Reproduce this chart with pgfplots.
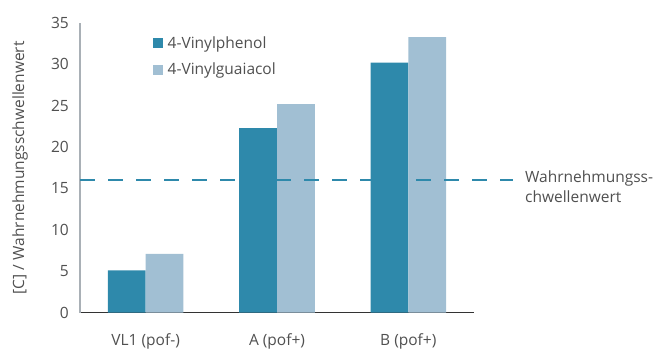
\documentclass[border=0pt]{standalone}
\usepackage{fontspec}
\setmainfont{Open Sans}
\usepackage{pgfplots}
\pgfplotsset{compat=1.18}
\definecolor{dark}{HTML}{2E89AB}
\definecolor{light}{HTML}{A1BFD3}
\definecolor{txt}{HTML}{505050}
\definecolor{yax}{HTML}{A9B0B6}
\begin{document}
\begin{tikzpicture}[font=\fontsize{15.5}{20}\selectfont]
\begin{axis}[
  scale only axis, width=394pt, height=289.5pt,
  xmin=-0.5, xmax=2.5, ymin=0, ymax=35,
  clip=false,
  /pgf/number format/assume math mode=true,
  ybar, bar width=37.8pt,
  axis x line*=bottom, axis y line*=left,
  x axis line style={draw=black!80, line width=0.8pt, -},
  y axis line style={draw=yax, line width=1.3pt, -},
  xtick={0,1,2}, xticklabels={VL1 (pof-),A (pof+),B (pof+)},
  major x tick style={draw=none},
  extra x ticks={-0.5,0.5,1.5,2.5}, extra x tick labels={},
  extra x tick style={tick style={draw=black!80, line width=0.8pt}, major tick length=6pt, tick align=outside},
  ytick={0,5,...,35}, ytick style={draw=none},
  tick label style={text=txt, font=\fontsize{15.5}{20}\selectfont},
  yticklabel style={anchor=east, inner sep=0pt, xshift=-11pt},
  xticklabel style={anchor=north, inner sep=0pt, yshift=-17pt},
  every axis y label/.style={at={(axis description cs:0,0.5)}, xshift=-60pt, rotate=90, anchor=center, text=txt},
  ylabel={[C] / Wahrnehmungsschwellenwert},
  legend style={at={(rel axis cs:0.184,0.96)}, anchor=north west, draw=none, fill=none, inner sep=0pt, row sep=9pt, text=txt, font=\fontsize{15.5}{20}\selectfont,
    /tikz/every odd column/.append style={column sep=3pt}},
  legend cell align=left,
]
\addplot[fill=dark, draw=none, bar shift=-18.9pt,
  legend image code/.code={\fill[dark] (0pt,-5pt) rectangle (10pt,5pt);}]
  coordinates {(0,5.1) (1,22.3) (2,30.2)};
\addlegendentry{4-Vinylphenol}
\addplot[fill=light, draw=none, bar shift=18.9pt,
  legend image code/.code={\fill[light] (0pt,-5pt) rectangle (10pt,5pt);}]
  coordinates {(0,7.1) (1,25.2) (2,33.3)};
\addlegendentry{4-Vinylguaiacol}
\draw[dark, line width=2pt, dash pattern=on 15pt off 13pt] (axis cs:-0.5,16) -- (axis cs:2.8,16);
\node[anchor=west, align=left, text=txt, inner sep=0pt, yshift=-7pt] at (axis cs:2.888,16) {Wahrnehmungss-\\chwellenwert};
\end{axis}
\pgfresetboundingbox
\path (current axis.south west) ++(-80pt,-36.5pt) rectangle ++(653pt,349pt);
\end{tikzpicture}
\end{document}
